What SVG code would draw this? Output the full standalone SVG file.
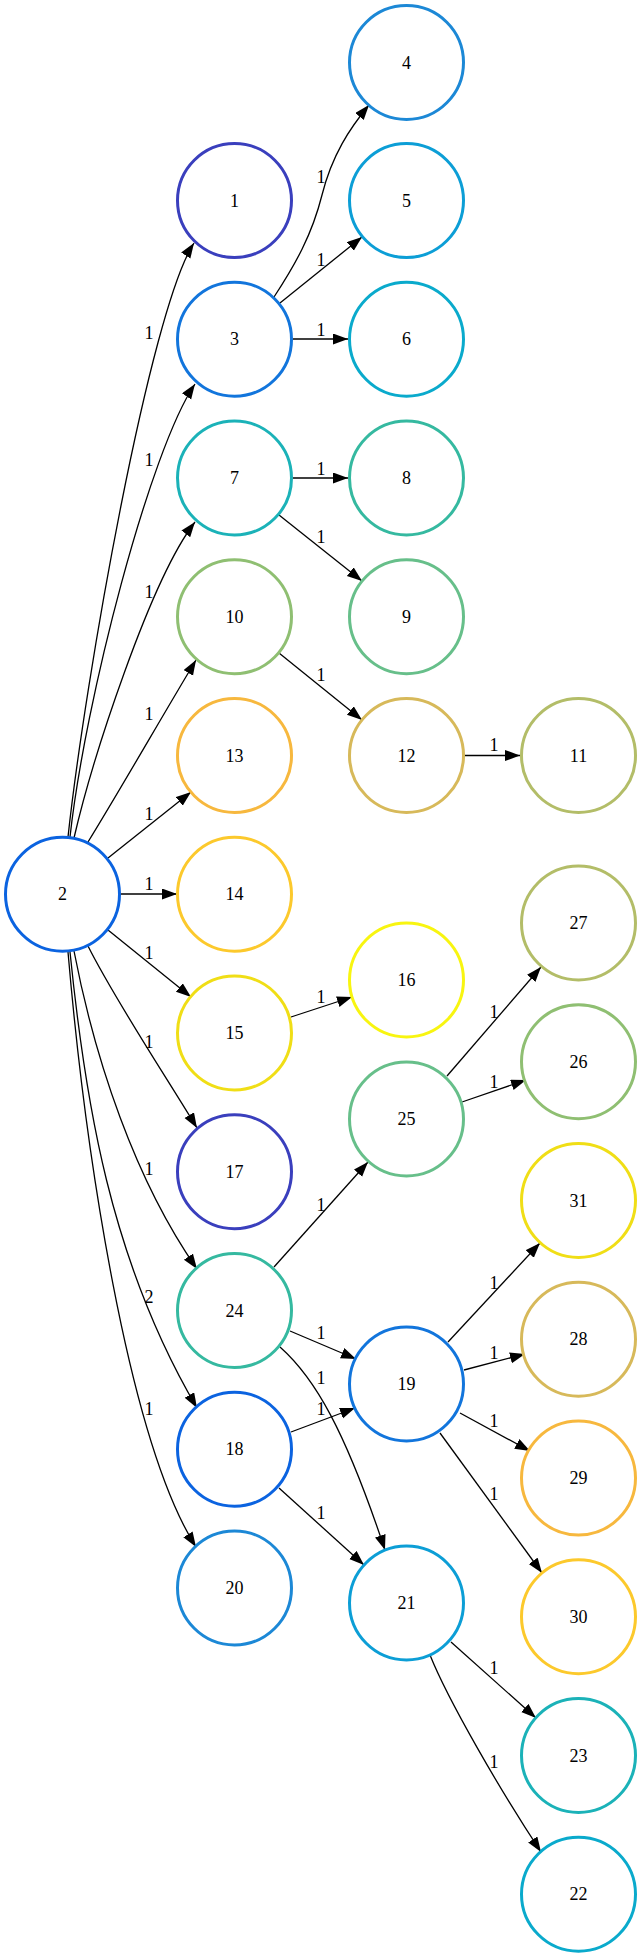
<svg xmlns="http://www.w3.org/2000/svg" width="641" height="1957" viewBox="0 0 641 1957">
<defs>
<style>
.n circle{fill:#fff;stroke-width:3}
.n text,.l text{font-family:"Liberation Serif","Times New Roman",serif;font-size:18px;fill:#000;text-anchor:middle}
.e path{fill:none;stroke:#000;stroke-width:1.3;marker-end:url(#ah)}
</style>
<marker id="ah" markerUnits="userSpaceOnUse" markerWidth="16" markerHeight="12" refX="15" refY="5.5" orient="auto"><path d="M0,0 L15,5.5 L0,11 Z" fill="#000"/></marker>
</defs>
<rect width="641" height="1957" fill="#fff"/>
<g id="edges" class="e">
<path d="M68,837 C 85,680 150,310 194,243"/>
<path d="M70,837 C 85,700 150,450 195,384"/>
<path d="M74,838 C 92,760 150,580 195,522"/>
<path d="M88,842 C 120,790 160,720 196,660"/>
<path d="M108,858 L191,792"/>
<path d="M121,894 L177,894"/>
<path d="M108,930 L191,997"/>
<path d="M88,946 C 115,1000 165,1075 197,1128"/>
<path d="M74,951 C 95,1060 135,1180 197,1269"/>
<path d="M70,952 C 85,1100 110,1260 197,1408"/>
<path d="M68,952 C 85,1150 128,1440 196,1547"/>
<path d="M274,297 C 295,265 312,235 322,195 C 332,155 350,128 369,105"/>
<path d="M280,303 L362,237"/>
<path d="M293,339 L348,339"/>
<path d="M293,478 L348,478"/>
<path d="M279,515 L362,581"/>
<path d="M279,653 L362,720"/>
<path d="M465,755.5 L520,755.5"/>
<path d="M291,1017 L352,997"/>
<path d="M274,1267 L368,1162"/>
<path d="M290,1331 L356,1359"/>
<path d="M280,1347 C 315,1378 345,1430 385,1550"/>
<path d="M291,1432 L355,1408"/>
<path d="M279,1488 L364,1565"/>
<path d="M447,1076 L541,967"/>
<path d="M462,1102 L526,1080"/>
<path d="M448,1342 L540,1243"/>
<path d="M464,1370 L525,1354"/>
<path d="M460,1413 L530,1451"/>
<path d="M440,1433 L542,1573"/>
<path d="M451,1642 L536,1718"/>
<path d="M430,1655 C 448,1700 500,1790 541,1852"/>
</g>
<g id="edge-labels" class="l">
<text x="149" y="339">1</text>
<text x="149" y="466">1</text>
<text x="149" y="598">1</text>
<text x="149" y="720">1</text>
<text x="149" y="820">1</text>
<text x="149" y="890">1</text>
<text x="149" y="959">1</text>
<text x="149" y="1048">1</text>
<text x="149" y="1175">1</text>
<text x="149" y="1303">2</text>
<text x="149" y="1415">1</text>
<text x="321" y="183">1</text>
<text x="321" y="266">1</text>
<text x="321" y="336">1</text>
<text x="321" y="475">1</text>
<text x="321" y="543">1</text>
<text x="321" y="681">1</text>
<text x="494" y="751">1</text>
<text x="321" y="1003">1</text>
<text x="494" y="1018">1</text>
<text x="494" y="1088">1</text>
<text x="321" y="1211">1</text>
<text x="321" y="1339">1</text>
<text x="321" y="1384">1</text>
<text x="321" y="1415">1</text>
<text x="321" y="1519">1</text>
<text x="494" y="1289">1</text>
<text x="494" y="1359">1</text>
<text x="494" y="1427">1</text>
<text x="494" y="1500">1</text>
<text x="494" y="1674">1</text>
<text x="494" y="1768">1</text>
</g>
<g id="node2" class="n"><circle cx="62.5" cy="894.25" r="57" stroke="#0b63e0"/><text x="62.5" y="900.25">2</text></g>
<g id="node1" class="n"><circle cx="234.5" cy="200.5" r="57" stroke="#3a3fbd"/><text x="234.5" y="206.5">1</text></g>
<g id="node3" class="n"><circle cx="234.5" cy="339.25" r="57" stroke="#1275dc"/><text x="234.5" y="345.25">3</text></g>
<g id="node7" class="n"><circle cx="234.5" cy="478" r="57" stroke="#1bb2b8"/><text x="234.5" y="484">7</text></g>
<g id="node10" class="n"><circle cx="234.5" cy="616.75" r="57" stroke="#8fbf72"/><text x="234.5" y="622.75">10</text></g>
<g id="node13" class="n"><circle cx="234.5" cy="755.5" r="57" stroke="#f7b83e"/><text x="234.5" y="761.5">13</text></g>
<g id="node14" class="n"><circle cx="234.5" cy="894.25" r="57" stroke="#fcc92c"/><text x="234.5" y="900.25">14</text></g>
<g id="node15" class="n"><circle cx="234.5" cy="1033" r="57" stroke="#f0de16"/><text x="234.5" y="1039">15</text></g>
<g id="node17" class="n"><circle cx="234.5" cy="1171.75" r="57" stroke="#3a3fbd"/><text x="234.5" y="1177.75">17</text></g>
<g id="node24" class="n"><circle cx="234.5" cy="1310.5" r="57" stroke="#35b9a0"/><text x="234.5" y="1316.5">24</text></g>
<g id="node18" class="n"><circle cx="234.5" cy="1449.25" r="57" stroke="#0b63e0"/><text x="234.5" y="1455.25">18</text></g>
<g id="node20" class="n"><circle cx="234.5" cy="1588" r="57" stroke="#1c88d6"/><text x="234.5" y="1594">20</text></g>
<g id="node4" class="n"><circle cx="406.5" cy="62.5" r="57" stroke="#1c88d6"/><text x="406.5" y="68.5">4</text></g>
<g id="node5" class="n"><circle cx="406.5" cy="200.5" r="57" stroke="#0c9ed6"/><text x="406.5" y="206.5">5</text></g>
<g id="node6" class="n"><circle cx="406.5" cy="339.25" r="57" stroke="#0aaacc"/><text x="406.5" y="345.25">6</text></g>
<g id="node8" class="n"><circle cx="406.5" cy="478" r="57" stroke="#35b9a0"/><text x="406.5" y="484">8</text></g>
<g id="node9" class="n"><circle cx="406.5" cy="616.75" r="57" stroke="#67bf8a"/><text x="406.5" y="622.75">9</text></g>
<g id="node12" class="n"><circle cx="406.5" cy="755.5" r="57" stroke="#d7b95a"/><text x="406.5" y="761.5">12</text></g>
<g id="node16" class="n"><circle cx="406.5" cy="980" r="57" stroke="#f8f510"/><text x="406.5" y="986">16</text></g>
<g id="node25" class="n"><circle cx="406.5" cy="1119" r="57" stroke="#67bf8a"/><text x="406.5" y="1125">25</text></g>
<g id="node19" class="n"><circle cx="406.5" cy="1384" r="57" stroke="#1275dc"/><text x="406.5" y="1390">19</text></g>
<g id="node21" class="n"><circle cx="406.5" cy="1603" r="57" stroke="#0c9ed6"/><text x="406.5" y="1609">21</text></g>
<g id="node11" class="n"><circle cx="578.5" cy="755.5" r="57" stroke="#b3bd68"/><text x="578.5" y="761.5">11</text></g>
<g id="node27" class="n"><circle cx="578.5" cy="923" r="57" stroke="#b3bd68"/><text x="578.5" y="929">27</text></g>
<g id="node26" class="n"><circle cx="578.5" cy="1061.75" r="57" stroke="#8fbf72"/><text x="578.5" y="1067.75">26</text></g>
<g id="node31" class="n"><circle cx="578.5" cy="1200.5" r="57" stroke="#f0de16"/><text x="578.5" y="1206.5">31</text></g>
<g id="node28" class="n"><circle cx="578.5" cy="1339.25" r="57" stroke="#d7b95a"/><text x="578.5" y="1345.25">28</text></g>
<g id="node29" class="n"><circle cx="578.5" cy="1478" r="57" stroke="#f7b83e"/><text x="578.5" y="1484">29</text></g>
<g id="node30" class="n"><circle cx="578.5" cy="1616.75" r="57" stroke="#fcc92c"/><text x="578.5" y="1622.75">30</text></g>
<g id="node23" class="n"><circle cx="578.5" cy="1755.5" r="57" stroke="#1bb2b8"/><text x="578.5" y="1761.5">23</text></g>
<g id="node22" class="n"><circle cx="578.5" cy="1894.25" r="57" stroke="#0aaacc"/><text x="578.5" y="1900.25">22</text></g>
</svg>
